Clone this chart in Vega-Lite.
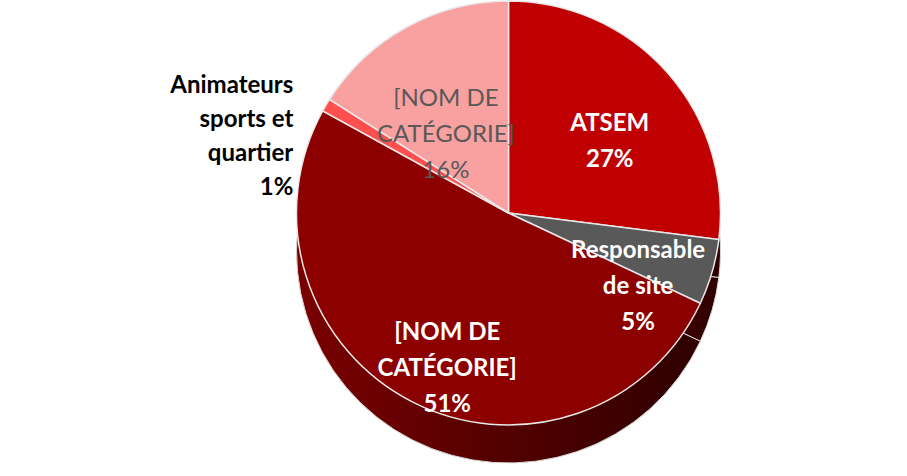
{
  "$schema": "https://vega.github.io/schema/vega-lite/v6.json",
  "autosize": {"type": "fit", "contains": "padding"},
  "width": 907,
  "height": 476,
  "padding": {"left": 110, "top": 6, "right": 0, "bottom": 42},
  "background": "white",
  "config": {"view": {"stroke": null}},
  "data": {
    "values": [
      {"id": "ATSEM", "value": 27, "order": 1, "label": ["ATSEM", "27%"]},
      {"id": "Responsable de site", "value": 5, "order": 2, "label": ["Responsable", "de site", "5%"]},
      {"id": "Cat51", "value": 51, "order": 3, "label": ["[NOM DE", "CATÉGORIE]", "51%"]},
      {"id": "Animateurs sports et quartier", "value": 1, "order": 4, "label": ["Animateurs", "sports et", "quartier", "1%"]},
      {"id": "Cat16", "value": 16, "order": 5, "label": ["[NOM DE", "CATÉGORIE]", "16%"]}
    ]
  },
  "encoding": {
    "theta": {"field": "value", "type": "quantitative", "stack": true},
    "order": {"field": "order", "type": "quantitative"}
  },
  "layer": [
    {
      "mark": {
        "type": "arc", "outerRadius": 212, "yOffset": 38,
        "color": {"gradient": "linear", "x1": 0, "y1": 0, "x2": 1, "y2": 0, "stops": [{"offset": 0, "color": "#7a0000"}, {"offset": 1, "color": "#2e0000"}]},
        "stroke": "#d9d9d9", "strokeWidth": 1
      },
      "encoding": {}
    },
    {
      "mark": {"type": "arc", "outerRadius": 212, "stroke": "#e8e8e8", "strokeWidth": 1.5},
      "encoding": {
        "color": {
          "field": "id",
          "type": "nominal",
          "scale": {
            "domain": ["ATSEM", "Responsable de site", "Cat51", "Animateurs sports et quartier", "Cat16"],
            "range": ["#C00000", "#595959", "#8C0000", "#FF4F4F", "#F9A0A0"]
          },
          "legend": null
        }
      }
    },
    {
      "mark": {"type": "text", "radius": 135, "font": "Lato", "fontWeight": "bold", "fontSize": 24, "color": "white", "lineHeight": 36},
      "encoding": {"text": {"condition": {"test": "datum.order <= 3", "field": "label"}, "value": ""}}
    },
    {
      "mark": {"type": "text", "radius": 130, "font": "Lato", "fontSize": 24, "color": "#595959", "lineHeight": 36},
      "encoding": {"text": {"condition": {"test": "datum.order == 5", "field": "label"}, "value": ""}}
    },
    {
      "mark": {"type": "text", "radius": 250, "align": "right", "font": "Lato", "fontWeight": "bold", "fontSize": 24, "color": "black", "lineHeight": 34},
      "encoding": {"text": {"condition": {"test": "datum.order == 4", "field": "label"}, "value": ""}}
    }
  ]
}
